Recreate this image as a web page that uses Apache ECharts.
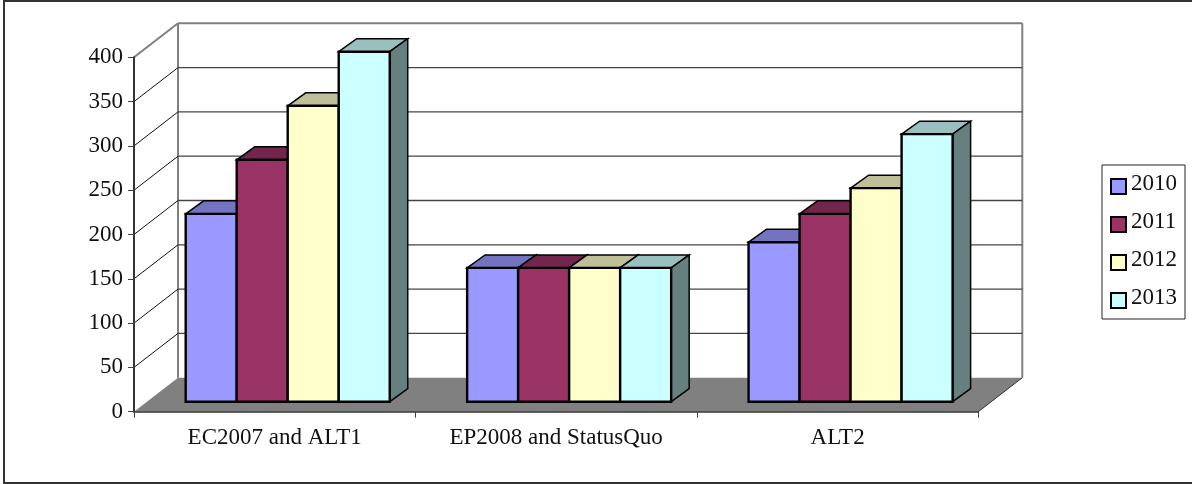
<!DOCTYPE html>
<html>
<head>
<meta charset="utf-8">
<style>html,body{margin:0;padding:0;background:#fff}#chart{width:1192px;height:484px}</style>
<script src="https://cdn.jsdelivr.net/npm/echarts@6/dist/echarts.min.js"></script>
</head>
<body>
<div id="chart"></div>
<script>
const categories = ['EC2007 and ALT1', 'EP2008 and StatusQuo', 'ALT2'];
const years = ['2010', '2011', '2012', '2013'];
const values2010 = [212, 151, 180];
const values2011 = [273, 151, 212];
const values2012 = [334, 151, 241];
const values2013 = [395, 151, 302];
const yTicks = [0, 50, 100, 150, 200, 250, 300, 350, 400];
const frontColors = ['#9999FF', '#993366', '#FFFFCC', '#CCFFFF'];
const topColors = ['#7373BF', '#73264D', '#BFBF99', '#99BFBF'];
const sideColors = ['#4D4D80', '#4D1A33', '#808066', '#668080'];

// Oblique projection: the room depth and where the bars stand inside it.
const ROOM = [44, -34];
const PLANE = [13, -10];
const BAR_DEPTH = [18, -13];
const GROUP_SHARE = 0.725;

const FONT = '"Liberation Serif", "Times New Roman", serif';

function poly(points, fill, stroke, width) {
  return { type: 'polygon', shape: { points }, style: { fill, stroke, lineWidth: width, lineJoin: 'miter' } };
}
function seg(a, b, stroke, width) {
  return { type: 'line', shape: { x1: a[0], y1: a[1], x2: b[0], y2: b[1] }, style: { stroke, lineWidth: width } };
}

// Walls and floor of the 3D room, one datum per value-axis tick.
function renderRoom(params, api) {
  const cs = params.coordSys;
  const left = cs.x, right = cs.x + cs.width;
  const y = api.coord([0, api.value(0)])[1];
  const backLeft = [left + ROOM[0], y + ROOM[1]];
  const backRight = [right + ROOM[0], y + ROOM[1]];
  const children = [];
  if (api.value(0) === 0) {
    children.push(poly([[left, y], backLeft, backRight, [right, y]], '#808080', null, 0));
    children.push(seg([right, y], backRight, '#333333', 1));
    const topY = api.coord([0, yTicks[yTicks.length - 1]])[1];
    children.push(seg(backLeft, [backLeft[0], topY + ROOM[1]], '#808080', 2));
    children.push(seg(backRight, [backRight[0], topY + ROOM[1]], '#808080', 2));
    children.push(seg([backLeft[0], topY + ROOM[1]], [backRight[0], topY + ROOM[1]], '#808080', 2));
    children.push(seg([left, topY], [backLeft[0], topY + ROOM[1]], '#808080', 2));
  } else if (api.value(0) !== yTicks[yTicks.length - 1]) {
    children.push(seg([left, y], backLeft, '#111111', 1));
    children.push(seg(backLeft, backRight, '#444444', 1.3));
  }
  return { type: 'group', children };
}

// One column: top face, side face, then the front face over them.
function renderColumn(params, api) {
  const s = params.seriesIndex - 1;
  const base = api.coord([api.value(0), 0]);
  const head = api.coord([api.value(0), api.value(1)]);
  const barW = api.size([1, 0])[0] * GROUP_SHARE / years.length;
  const x0 = base[0] - barW * years.length / 2 + s * barW + PLANE[0];
  const x1 = x0 + barW;
  const yB = base[1] + PLANE[1];
  const yT = head[1] + PLANE[1];
  const dx = BAR_DEPTH[0], dy = BAR_DEPTH[1];
  return {
    type: 'group',
    children: [
      poly([[x0, yT], [x0 + dx, yT + dy], [x1 + dx, yT + dy], [x1, yT]], topColors[s], '#000', 1.5),
      poly([[x1, yT], [x1 + dx, yT + dy], [x1 + dx, yB + dy], [x1, yB]], sideColors[s], '#000', 1.5),
      poly([[x0, yT], [x1, yT], [x1, yB], [x0, yB]], frontColors[s], '#000', 2.4)
    ]
  };
}

const columnValues = [values2010, values2011, values2012, values2013];

const chart = echarts.init(document.getElementById('chart'), null, { renderer: 'canvas' });
chart.setOption({
  animation: false,
  backgroundColor: '#fff',
  textStyle: { fontFamily: FONT },
  grid: { left: 134, top: 57.3, width: 844.3, height: 354.4, containLabel: false },
  xAxis: {
    type: 'category',
    data: categories,
    z: 10,
    boundaryGap: true,
    axisLine: { lineStyle: { color: '#333', width: 1.5 } },
    axisTick: { show: true, alignWithLabel: false, length: 6, lineStyle: { color: '#404040', width: 1 } },
    axisLabel: { interval: 0, margin: 15, fontFamily: FONT, fontSize: 23, color: '#111' },
    splitLine: { show: false }
  },
  yAxis: {
    type: 'value',
    min: 0,
    max: 400,
    interval: 50,
    z: 10,
    axisLine: { show: true, lineStyle: { color: '#333', width: 2 } },
    axisTick: { show: true, length: 6, lineStyle: { color: '#404040', width: 1 } },
    axisLabel: { margin: 11, fontFamily: FONT, fontSize: 23, color: '#111' },
    splitLine: { show: false }
  },
  legend: {
    orient: 'vertical',
    left: 1102,
    top: 165,
    padding: [7, 8, 4, 8],
    itemWidth: 15,
    itemHeight: 15,
    itemGap: 9,
    icon: 'rect',
    borderColor: '#222',
    borderWidth: 1,
    data: years,
    formatter: name => '{t|' + name + '}',
    itemStyle: { borderColor: '#000', borderWidth: 2 },
    textStyle: {
      rich: { t: { fontFamily: FONT, fontSize: 23, color: '#111', lineHeight: 23, padding: [0, 0, 6, 0] } }
    }
  },
  graphic: [{
    type: 'rect',
    silent: true,
    shape: { x: 4, y: 1, width: 1300, height: 482 },
    style: { fill: null, stroke: '#333', lineWidth: 2 }
  }],
  series: [
    {
      name: 'room',
      type: 'custom',
      z: 1,
      silent: true,
      renderItem: renderRoom,
      data: yTicks.map(v => [v]),
      encode: { y: 0 }
    }
  ].concat(years.map((name, i) => ({
    name,
    type: 'custom',
    z: 3 + i,
    silent: true,
    itemStyle: { color: frontColors[i] },
    renderItem: renderColumn,
    data: columnValues[i].map((v, c) => [c, v]),
    encode: { x: 0, y: 1 }
  })))
});
</script>
</body>
</html>
